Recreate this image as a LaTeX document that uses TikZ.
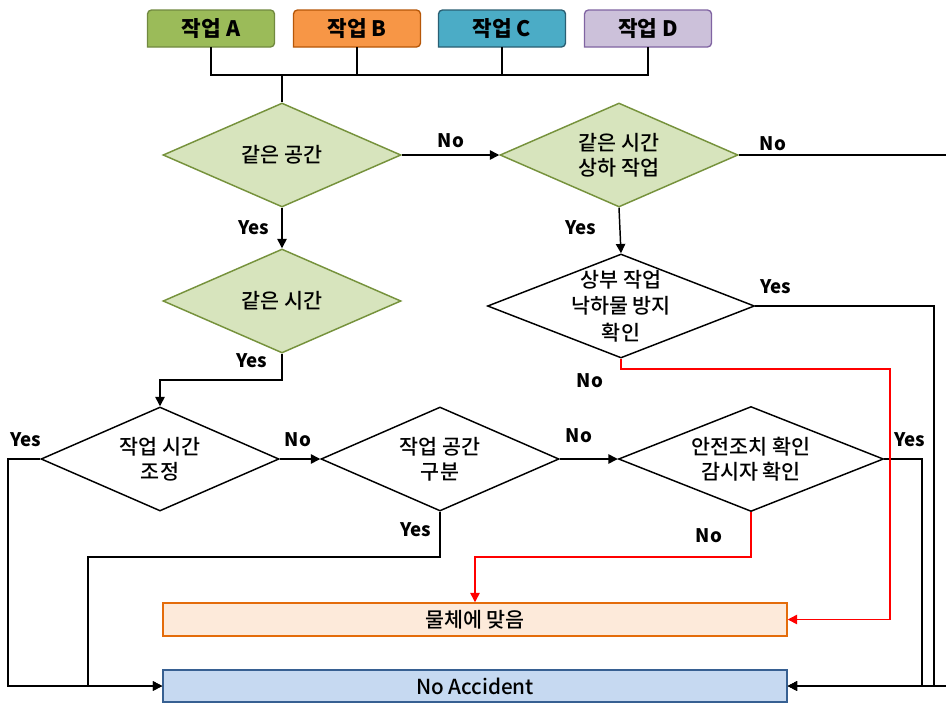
\documentclass[tikz,border=0pt]{standalone}
\usepackage{fontspec}
\setmainfont{Noto Sans CJK KR}
\newfontfamily\medfont{Noto Sans CJK KR Medium}
\usetikzlibrary{shapes.geometric,arrows.meta,calc}
\definecolor{aFill}{HTML}{9BBB59}\definecolor{aLine}{HTML}{71893F}
\definecolor{bFill}{HTML}{F79646}\definecolor{bLine}{HTML}{B65708}
\definecolor{cFill}{HTML}{4BACC6}\definecolor{cLine}{HTML}{2A5F73}
\definecolor{dFill}{HTML}{CCC1DA}\definecolor{dLine}{HTML}{8064A2}
\definecolor{gFill}{HTML}{D7E4BD}\definecolor{gLine}{HTML}{76923C}
\definecolor{hFill}{HTML}{FDEADA}\definecolor{hLine}{HTML}{E46C0A}
\definecolor{nFill}{HTML}{C6D9F1}\definecolor{nLine}{HTML}{376092}
\definecolor{redln}{HTML}{FF0000}
\tikzset{
 ln/.style={line width=1.1pt, draw=black},
 arr/.style={ln, -{Triangle[length=7pt,width=7pt]}},
 redarr/.style={line width=1.1pt, draw=redln, -{Triangle[length=7pt,width=7pt,fill=redln]}},
 lab/.style={font=\fontsize{14}{16}\selectfont\bfseries, inner sep=0pt},
 dtext/.style={font=\medfont\fontsize{15.5}{18.5}\selectfont, align=center, inner sep=0pt},
 dia/.style={diamond, line width=1.1pt, minimum width=178.5pt, minimum height=78pt, inner sep=0pt},
 gdia/.style={dia, draw=gLine, fill=gFill},
 wdia/.style={dia, draw=black, fill=white},
 tnode/.style={minimum width=95.25pt, minimum height=27.75pt, inner sep=0pt, font=\fontsize{16}{18}\selectfont\bfseries},
 topshape/.style={line width=1pt},
 bbox/.style={minimum width=468pt, inner sep=0pt, line width=1.1pt, font=\medfont\fontsize{15.5}{18}\selectfont},
}
\begin{document}
\begin{tikzpicture}[x=0.75pt,y=-0.75pt]
\useasboundingbox (0,0) rectangle (946,704);
\fill[white] (0,0) rectangle (946,704);

% top boxes (rounded top corners)
\filldraw[topshape, fill=aFill, draw=aLine] (147.5,47) [rounded corners=3pt] -- (147.5,10) -- (274.5,10) -- (274.5,47) [sharp corners] -- cycle;
\filldraw[topshape, fill=bFill, draw=bLine] (293.5,47) [rounded corners=3pt] -- (293.5,10) -- (420.5,10) -- (420.5,47) [sharp corners] -- cycle;
\filldraw[topshape, fill=cFill, draw=cLine] (438.5,47) [rounded corners=3pt] -- (438.5,10) -- (565.5,10) -- (565.5,47) [sharp corners] -- cycle;
\filldraw[topshape, fill=dFill, draw=dLine] (584.5,47) [rounded corners=3pt] -- (584.5,10) -- (711.5,10) -- (711.5,47) [sharp corners] -- cycle;
\node[tnode] (A) at (211,28.5) {작업 A};
\node[tnode] (B) at (357,28.5) {작업 B};
\node[tnode] (C) at (502,28.5) {작업 C};
\node[tnode] (D) at (648,28.5) {작업 D};

% diamonds
\node[gdia, label={[dtext]center:{같은 공간}}] (d1) at (282,155) {};
\node[gdia, label={[dtext]center:{같은 시간\\상하 작업}}] (d2) at (619,155) {};
\node[gdia, label={[dtext]center:{같은 시간}}] (d3) at (282,301) {};
\node[wdia, label={[dtext]center:{작업 시간\\조정}}] (d4) at (160,459) {};
\node[wdia, label={[dtext]center:{작업 공간\\구분}}] (d5) at (440,459) {};
\node[wdia, minimum width=198.75pt, minimum height=78.75pt, label={[dtext]center:{안전조치 확인\\감시자 확인}}] (d6) at (751,459) {};
\node[wdia, minimum width=200.25pt, minimum height=78pt, label={[dtext, font=\medfont\fontsize{15.5}{20}\selectfont]center:{상부 작업\\낙하물 방지\\확인}}] (d7) at (621,306) {};

% bottom boxes
\node[bbox, minimum height=24.75pt, draw=hLine, fill=hFill] (hit) at (475,619.5) {물체에 맞음};
\node[bbox, minimum height=24pt, draw=nLine, fill=nFill] (noacc) at (475,686) {No Accident};

% top bus
\coordinate (bus) at (282,75);
\draw[ln] (A.south) -- (A.south |- bus) -- (D.south |- bus) -- (D.south);
\draw[ln] (B.south) -- (B.south |- bus);
\draw[ln] (C.south) -- (C.south |- bus);
\draw[ln] (bus) -- (d1.north);

% connectors
\draw[arr] (d1.east) -- (d2.west);
\coordinate (r2) at (956,155);
\draw[arr] (d2.east) -- (r2) |- (noacc.east);
\draw[arr] (d1.south) -- (d3.north);
\coordinate (k3) at (282,380);
\draw[arr] (d3.south) -- (k3) -| (d4.north);
\draw[arr] (d4.east) -- (d5.west);
\draw[arr] (d5.east) -- (d6.west);
\draw[arr] (d2.south) -- (d7.north);
\coordinate (r7) at (934,306);
\draw[arr] (d7.east) -- (r7) |- (noacc.east);
\coordinate (r6) at (922,459);
\draw[arr] (d6.east) -- (r6) |- (noacc.east);
\coordinate (r4) at (8,459);
\draw[arr] (d4.west) -- (r4) |- (noacc.west);
\coordinate (k5) at (88,557);
\draw[arr] (d5.south) |- (k5) |- (noacc.west);
\coordinate (k7) at (890,369);
\draw[redarr] (d7.south) |- (k7) |- (hit.east);
\coordinate (k6) at (751,557);
\draw[redarr] (d6.south) -- (k6) -| (hit.north);

% labels
\node[lab] (l1) at (451,141) {No};
\node[lab] (l2) at (773,144) {No};
\node[lab] (l3) at (254,228) {Yes};
\node[lab] (l4) at (581,228) {Yes};
\node[lab] (l5) at (252,361) {Yes};
\node[lab] (l6) at (776,287) {Yes};
\node[lab] (l7) at (590,381) {No};
\node[lab] (l8) at (26,440) {Yes};
\node[lab] (l9) at (298,440) {No};
\node[lab] (l10) at (579,436) {No};
\node[lab] (l11) at (910,440) {Yes};
\node[lab] (l12) at (416,530) {Yes};
\node[lab] (l13) at (709,536) {No};
\end{tikzpicture}
\end{document}
